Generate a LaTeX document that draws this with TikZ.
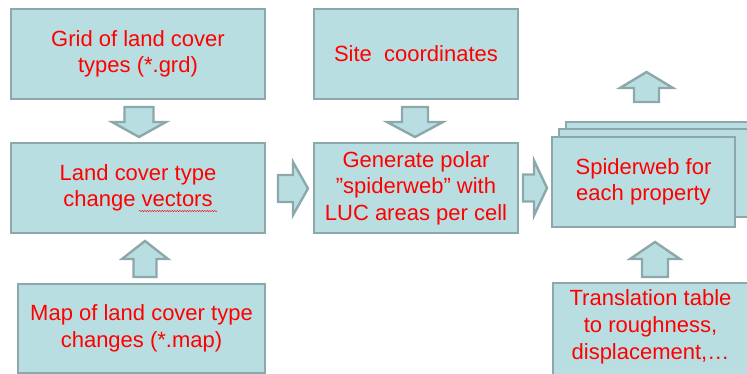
\documentclass[tikz,border=0pt]{standalone}
\usepackage{fontspec}
\setmainfont{Liberation Sans}
\usetikzlibrary{decorations.pathmorphing}
\definecolor{boxfill}{RGB}{185,222,225}
\definecolor{boxline}{RGB}{140,168,170}
\definecolor{txtred}{RGB}{255,0,0}
\tikzset{
  box/.style={rectangle, fill=boxfill, draw=boxline, line width=2.4pt, inner sep=0pt,
    align=center, text=txtred, font=\fontsize{22}{26.5}\selectfont},
  txt/.style={align=center, text=txtred, font=\fontsize{22}{27}\selectfont, inner sep=0pt},
  blk/.style={fill=boxfill, draw=boxline, line width=2.4pt, line join=miter}
}
\newcommand\arrV[6]{\draw[blk] (#4-#5,#1) -- (#4-#5,#2) -- (#4-#6,#2) -- (#4,#3) -- (#4+#6,#2) -- (#4+#5,#2) -- (#4+#5,#1) -- cycle;}
\newcommand\arrR[6]{\draw[blk] (#1,#4-#5) -- (#2,#4-#5) -- (#2,#4-#6) -- (#3,#4) -- (#2,#4+#6) -- (#2,#4+#5) -- (#1,#4+#5) -- cycle;}
\begin{document}
\begin{tikzpicture}[x=1pt,y=-1pt]
\useasboundingbox (0,0) rectangle (747,374);
\clip (0,0) rectangle (747,374);
% left column
\node[box, minimum width=254pt, minimum height=90pt] (grid) at (138,54) {Grid of land cover\\types (*.grd)};
\node[box, minimum width=254pt, minimum height=90pt] (vec) at (138,188) {Land cover type\\change vectors};
\node[box, minimum width=247pt, minimum height=89pt] (map) at (141.5,328.5) {Map of land cover type\\changes (*.map)};
% middle column
\node[box, minimum width=204pt, minimum height=90pt] (site) at (416,54) {Site\ \ coordinates};
\node[box, minimum width=204pt, minimum height=90pt] (gen) at (416,188) {Generate polar\\”spiderweb” with\\LUC areas per cell};
% right column: stacked boxes
\node[box, minimum width=210pt, minimum height=88pt] (web3) at (671,166) {};
\node[box, minimum width=205pt, minimum height=88pt] (web2) at (661.5,173) {};
\node[box, minimum width=183pt, minimum height=90pt] (web) at (643.5,182) {Spiderweb for\\each property};
\node[box, minimum width=210pt, minimum height=104pt] (trbox) at (658,335) {};
\node[txt] (tr) at (650.5,327) {Translation table\\to roughness,\\displacement,…};
% spell-check squiggle
\coordinate (sq1) at (139,211);
\coordinate (sq2) at (217,211);
\draw[txtred, line width=0.4pt, decorate, decoration={snake, amplitude=0.7pt, segment length=2.5pt}] (sq1) -- (sq2);
% block arrows
\arrV{107}{122}{137}{139}{14.5}{27}
\arrV{107}{122}{137}{415}{13}{28}
\arrV{277}{259}{241}{145}{11.5}{23}
\arrV{277}{259}{242}{655}{13}{25}
\arrV{102}{88}{72}{646.5}{12.5}{26.5}
\arrR{278}{293}{308}{188.5}{13.5}{26.5}
\arrR{523}{534}{547}{188}{13.5}{27.5}
\end{tikzpicture}
\end{document}
